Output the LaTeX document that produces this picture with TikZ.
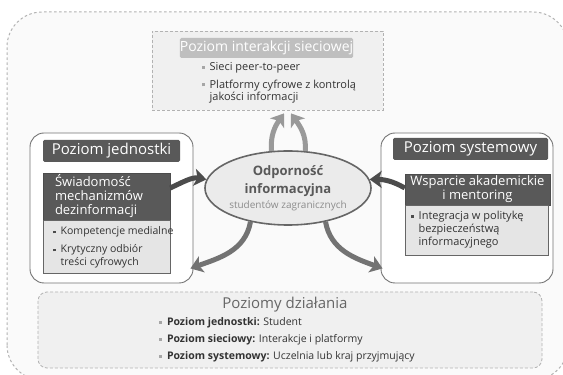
\documentclass[tikz,border=0pt]{standalone}
\usepackage{fontspec}
\setmainfont{Open Sans}
\usetikzlibrary{arrows.meta}
\usetikzlibrary{positioning}
\usetikzlibrary{shapes.geometric}
\usetikzlibrary{calc}
\tikzstyle{panel}=[draw=black!55,fill=white,line width=0.9pt,rounded corners=14pt]
\tikzstyle{paneltitle}=[fill=black!65,text=white,rounded corners=1.5pt,inner sep=0pt,font=\fontsize{15}{16}\selectfont]
\tikzstyle{darkbox}=[fill=black!65,draw=black!70,text=white,inner sep=0pt,font=\fontsize{13}{14}\selectfont]
\tikzstyle{listbox}=[fill=black!10,draw=black!60,line width=0.6pt,inner sep=0pt]
\tikzstyle{dashbox}=[draw=black!30,fill=black!6,line width=0.8pt,dash pattern=on 3pt off 2pt]
\tikzstyle{listtext}=[anchor=north west,inner sep=0pt,text=black!80,font=\fontsize{10.5}{13}\selectfont]
\tikzstyle{fat}=[line width=5pt,-{Stealth[length=12pt,width=17pt,inset=3pt]}]
\newcommand{\blt}[1][black!35]{\textcolor{#1}{\rule[0.3ex]{2.8pt}{2.8pt}}}

\begin{document}
\begin{tikzpicture}[x=1pt,y=1pt]
\useasboundingbox (0,0) rectangle (563,375);
\fill[white] (0,0) rectangle (563,375);
\draw[draw=black!30,fill=black!2,line width=1pt,rounded corners=35pt,dash pattern=on 2.5pt off 2.5pt] (7,-5) rectangle (568,363);

% network level
\node[dashbox,minimum width=231pt,minimum height=79pt] (net) at (267.5,304.5) {};
\node[paneltitle,fill=black!25,minimum width=161pt,minimum height=20pt,font=\fontsize{14}{15}\selectfont] (nettitle) at (266.5,327) {Poziom interakcji sieciowej};
\node[listtext,font=\fontsize{11}{12.5}\selectfont] (netitems) at ([shift={(50,-31)}]net.north west) {\begin{tabular}{@{}l@{\hspace{5pt}}l@{}}
\blt & Sieci peer-to-peer\\[5pt]
\blt & Platformy cyfrowe z kontrolą\\
 & jakości informacji
\end{tabular}};

% individual level
\node[panel,minimum width=163pt,minimum height=150pt] (indiv) at (111.5,167) {};
\node[paneltitle,minimum width=137pt,minimum height=22pt] (indivtitle) at (111.5,224) {Poziom jednostki};
\node[darkbox,minimum width=127pt,minimum height=47pt,text width=103pt,align=left] (aware) at (106.5,178.5) {Świadomość\\mechanizmów\\dezinformacji};
\node[listbox,minimum width=127pt,minimum height=53pt] (awarelist) at (106.5,128.5) {};
\node[listtext] (awareitems) at ([shift={(10,-6)}]awarelist.north west) {\begin{tabular}{@{}l@{\hspace{5pt}}l@{}}
\blt[black!70] & Kompetencje medialne\\[5pt]
\blt[black!70] & Krytyczny odbiór\\
 & treści cyfrowych
\end{tabular}};

% system level
\node[panel,minimum width=172pt,minimum height=150pt] (sys) at (467,167) {};
\node[paneltitle,minimum width=155pt,minimum height=22pt] (systitle) at (470.5,226) {Poziom systemowy};
\node[darkbox,minimum width=145pt,minimum height=31pt,align=center] (support) at (477.5,185.5) {Wsparcie akademickie\\i mentoring};
\node[listbox,minimum width=143pt,minimum height=50pt] (supportlist) at (476.5,145) {};
\node[listtext,font=\fontsize{11}{13}\selectfont] (supportitems) at ([shift={(6,-6)}]supportlist.north west) {\begin{tabular}{@{}l@{\hspace{5pt}}l@{}}
\blt[black!70] & Integracja w politykę\\
 & bezpieczeństwą\\
 & informacyjnego
\end{tabular}};

% centre
\node[ellipse,draw=black!60,line width=1.6pt,fill=black!8,minimum width=147pt,minimum height=74pt,inner sep=0pt,align=center,text=black!65,font=\fontsize{13}{18}\selectfont\bfseries] (core) at (288,187) {Odporność\\informacyjna\\[-3pt]{\fontsize{10}{11}\selectfont\mdseries\color{black!45}studentów zagranicznych}};

% levels of action
\node[dashbox,rounded corners=9pt,minimum width=504pt,minimum height=76pt] (levels) at (290,45) {};
\node[text=black!60,font=\fontsize{15}{16}\selectfont] (levelstitle) at (285,70) {Poziomy działania};
\node[listtext] (levelitems) at (159,59) {\begin{tabular}{@{}l@{\hspace{5pt}}l@{}}
\blt & \textbf{Poziom jednostki:} Student\\[4pt]
\blt & \textbf{Poziom sieciowy:} Interakcje i platformy\\[4pt]
\blt & \textbf{Poziom systemowy:} Uczelnia lub kraj przyjmujący
\end{tabular}};

% arrows
\coordinate (netinL) at ($(net.south -| core.north)+(-4,-3)$);
\coordinate (netinR) at ($(net.south -| core.north)+(3,-3)$);
\coordinate (indivcorner) at ($(indiv.south east)+(-3,15)$);
\coordinate (syscorner) at ($(sys.south west)+(2,15)$);
\draw[fat,draw=black!40] (core.114) to[out=95,in=235] (netinL);
\draw[fat,draw=black!40] (core.65) to[out=85,in=-55] (netinR);
\draw[fat,draw=black!70] ($(aware.east)+(0,8.5)$) to[out=25,in=170] (core.174);
\draw[fat,draw=black!70] ($(support.west)+(0,1.5)$) to[out=150,in=0] (core.6);
\draw[fat,draw=black!55] (core.222) to[out=260,in=20] (indivcorner);
\draw[fat,draw=black!55] (core.318) to[out=-80,in=160] (syscorner);
\end{tikzpicture}
\end{document}
